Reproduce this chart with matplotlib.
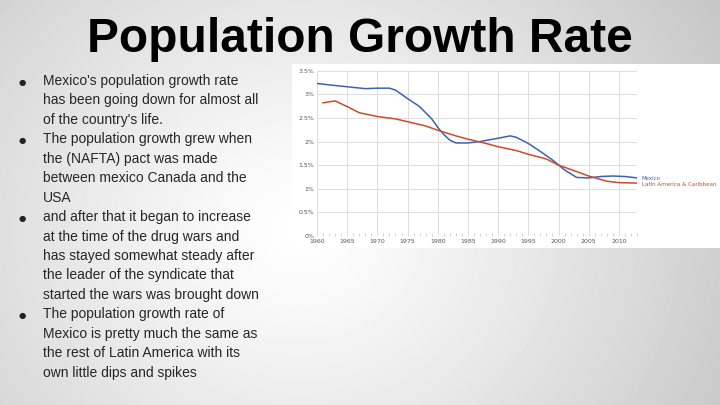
import matplotlib.pyplot as plt
import numpy as np
from matplotlib.patches import Rectangle
from matplotlib.ticker import FuncFormatter, MultipleLocator

# data
mexico_years = [1960, 1962, 1965, 1968, 1970, 1972, 1973, 1975, 1977, 1979, 1980, 1981,
                1982, 1983, 1985, 1987, 1990, 1992, 1993, 1995, 1997, 1999, 2001, 2003,
                2005, 2007, 2009, 2011, 2013]
mexico_rate = [3.23, 3.20, 3.16, 3.12, 3.13, 3.13, 3.09, 2.91, 2.74, 2.48, 2.30, 2.15,
               2.03, 1.97, 1.97, 2.00, 2.07, 2.12, 2.09, 1.96, 1.79, 1.61, 1.40, 1.24,
               1.23, 1.26, 1.27, 1.26, 1.23]
latam_years = [1961, 1963, 1965, 1967, 1970, 1973, 1975, 1978, 1980, 1983, 1985, 1988,
               1990, 1993, 1995, 1998, 2000, 2002, 2005, 2008, 2010, 2013]
latam_rate = [2.82, 2.86, 2.74, 2.61, 2.53, 2.48, 2.42, 2.33, 2.24, 2.12, 2.05, 1.96,
              1.89, 1.81, 1.73, 1.63, 1.50, 1.41, 1.27, 1.16, 1.13, 1.12]

title = 'Population Growth Rate'
bullets = [
    ["Mexico's population growth rate",
     "has been going down for almost all",
     "of the country's life."],
    ["The population growth grew when",
     "the (NAFTA) pact was made",
     "between mexico Canada and the",
     "USA"],
    ["and after that it began to increase",
     "at the time of the drug wars and",
     "has stayed somewhat steady after",
     "the leader of the syndicate that",
     "started the wars was brought down"],
    ["The population growth rate of",
     "Mexico is pretty much the same as",
     "the rest of Latin America with its",
     "own little dips and spikes"],
]

W, H = 720, 405
fig = plt.figure(figsize=(7.2, 4.05), dpi=100)

# slide background, soft radial gradient
bg = fig.add_axes([0, 0, 1, 1])
yy, xx = np.mgrid[0:H, 0:W]
d = np.hypot(xx - 300, (yy - 230) * 1.1) / 440.0
shade = np.clip(1.0 - 0.2 * d ** 1.2, 0, 1)
bg.imshow(shade, cmap='gray', vmin=0, vmax=1, extent=[0, W, H, 0], aspect='auto')
bg.set_xlim(0, W)
bg.set_ylim(H, 0)
bg.axis('off')

bg.text(360, 39, title, ha='center', va='center', fontsize=34.5, fontweight='bold',
        family='Liberation Sans', color='black')

y = 81
for group in bullets:
    bg.text(22, y + 1, '\u25cf', ha='center', va='center', fontsize=6, color='#222222',
            family='DejaVu Sans')
    for line in group:
        bg.text(43, y, line, ha='left', va='center', fontsize=10, color='#262626',
                family='Liberation Sans')
        y += 19.45

# white chart panel
bg.add_patch(Rectangle((292, 64), W - 292, 184, facecolor='white', edgecolor='none'))

ax = fig.add_axes([317 / W, 1 - 236 / H, 320 / W, 165.3 / H])
ax.set_facecolor('none')
ax.plot(mexico_years, mexico_rate, color='#3c62b4', lw=1.1)
ax.plot(latam_years, latam_rate, color='#cc4b28', lw=1.1)
ax.set_xlim(1960, 2013)
ax.set_ylim(0, 3.5)
ax.xaxis.set_major_locator(MultipleLocator(5))
ax.xaxis.set_minor_locator(MultipleLocator(1))
ax.yaxis.set_major_locator(MultipleLocator(0.5))
ax.yaxis.set_major_formatter(FuncFormatter(lambda v, p: f'{v:g}%'))
ax.grid(True, which='major', color='#dddddd', lw=0.7)
ax.set_axisbelow(True)
for s in ax.spines.values():
    s.set_visible(False)
ax.tick_params(axis='both', which='major', length=0, labelsize=4.5, labelcolor='#555555', pad=2)
ax.tick_params(axis='x', which='minor', length=2, color='#cccccc', direction='in')
ax.tick_params(axis='y', which='minor', length=0)

bg.text(642, 178, 'Mexico', fontsize=4, color='#3c62b4', va='center', ha='left')
bg.text(642, 184.5, 'Latin America & Caribbean', fontsize=4, color='#cc4b28',
        va='center', ha='left')

fig.savefig('out.png', dpi=100)
